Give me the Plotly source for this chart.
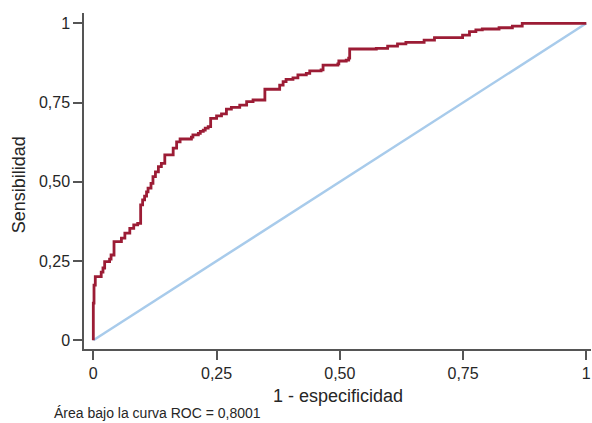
import plotly.graph_objects as go

# ROC curve corner points (1 - specificity, sensitivity)
fpr = [0.0, 0.0, 0.0014, 0.004, 0.016, 0.0196, 0.023, 0.033, 0.036, 0.042,
       0.057, 0.064, 0.074, 0.082, 0.090, 0.096, 0.100, 0.104, 0.108, 0.111,
       0.117, 0.121, 0.126, 0.132, 0.138, 0.145, 0.162, 0.169, 0.176, 0.199,
       0.202, 0.213, 0.217, 0.223, 0.227, 0.233, 0.238, 0.250, 0.260, 0.270,
       0.280, 0.297, 0.311, 0.324, 0.348, 0.378, 0.385, 0.391, 0.405, 0.415,
       0.432, 0.439, 0.462, 0.466, 0.496, 0.498, 0.513, 0.518, 0.520, 0.574,
       0.597, 0.617, 0.634, 0.671, 0.692, 0.749, 0.763, 0.776, 0.789, 0.823,
       0.850, 0.870, 1.0]
tpr = [0.0, 0.117, 0.174, 0.201, 0.215, 0.228, 0.248, 0.256, 0.269, 0.311,
       0.322, 0.338, 0.353, 0.364, 0.369, 0.427, 0.443, 0.455, 0.468, 0.480,
       0.495, 0.516, 0.531, 0.548, 0.558, 0.585, 0.606, 0.626, 0.635, 0.641,
       0.648, 0.653, 0.659, 0.663, 0.669, 0.674, 0.700, 0.708, 0.714, 0.729,
       0.735, 0.742, 0.753, 0.758, 0.792, 0.805, 0.816, 0.823, 0.828, 0.837,
       0.842, 0.850, 0.853, 0.868, 0.872, 0.881, 0.884, 0.890, 0.919, 0.921,
       0.928, 0.935, 0.940, 0.947, 0.955, 0.963, 0.974, 0.979, 0.982, 0.986,
       0.991, 1.0, 1.0]

ref_x = [0, 1]
ref_y = [0, 1]

tick_vals = [0, 0.25, 0.5, 0.75, 1]
tick_text = ["0", "0,25", "0,50", "0,75", "1"]

x_title = "1 - especificidad"
y_title = "Sensibilidad"
footer = "Área bajo la curva ROC = 0,8001"

FONT = "Liberation Sans, Arial, sans-serif"
AXIS_COLOR = "#555555"
TEXT_COLOR = "#262626"

fig = go.Figure()
fig.add_trace(go.Scatter(x=ref_x, y=ref_y, mode="lines",
                         line=dict(color="#A8CBEB", width=2.5),
                         showlegend=False, hoverinfo="skip"))
fig.add_trace(go.Scatter(x=fpr, y=tpr, mode="lines",
                         line=dict(color="#9C1C35", width=2.8, shape="hv"),
                         showlegend=False))

axis_common = dict(
    showgrid=False, zeroline=False, showline=True, linecolor=AXIS_COLOR,
    linewidth=1.5, ticks="outside", ticklen=9, tickwidth=1.5,
    tickcolor=AXIS_COLOR, tickvals=tick_vals, ticktext=tick_text,
    tickfont=dict(family=FONT, size=16, color=TEXT_COLOR),
    automargin=False,
)

fig.update_layout(
    width=592, height=423,
    margin=dict(l=84, r=1, t=13, b=74),
    paper_bgcolor="white", plot_bgcolor="white",
    font=dict(family=FONT, color=TEXT_COLOR),
    xaxis=dict(range=[-0.0189, 1.0095], **axis_common),
    yaxis=dict(range=[-0.0275, 1.0325], **axis_common),
    annotations=[
        dict(text=x_title, xref="paper", yref="paper", x=0.5, y=-0.14,
             xanchor="center", yanchor="middle", showarrow=False,
             font=dict(family=FONT, size=18, color=TEXT_COLOR)),
        dict(text=y_title, xref="paper", yref="paper", x=-0.129, y=0.489,
             xanchor="center", yanchor="middle", showarrow=False, textangle=-90,
             font=dict(family=FONT, size=18, color=TEXT_COLOR)),
        dict(text=footer, xref="paper", yref="paper", x=-0.063, y=-0.19,
             xanchor="left", yanchor="middle", showarrow=False,
             font=dict(family=FONT, size=14, color=TEXT_COLOR)),
    ],
)

# remove the browser's default page margin so the figure fills the window
fig.write_html(
    "out.html",
    config={"displayModeBar": False},
    post_script="document.body.style.margin='0';"
                "document.body.style.overflow='hidden';",
)
